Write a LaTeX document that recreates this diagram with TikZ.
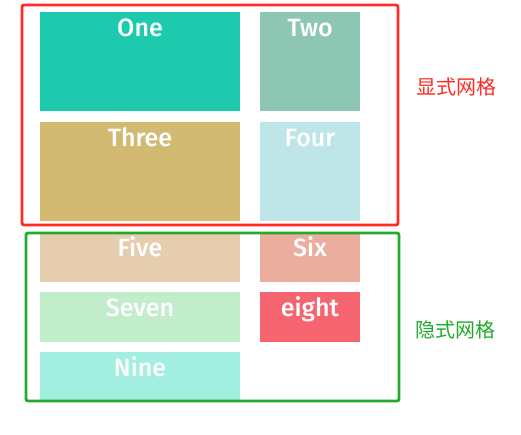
\documentclass[tikz,border=0pt]{standalone}
\usepackage{fontspec}
\setmainfont{Fira Sans Medium}
\newfontfamily\cjk{Noto Sans CJK SC}
\definecolor{cOne}{HTML}{1DCAAD}
\definecolor{cTwo}{HTML}{8DC6B3}
\definecolor{cThree}{HTML}{D2BA73}
\definecolor{cFour}{HTML}{BEE6E8}
\definecolor{cFive}{HTML}{E5CDAD}
\definecolor{cSix}{HTML}{EBAD9E}
\definecolor{cSeven}{HTML}{C1EDCA}
\definecolor{cEight}{HTML}{F5646F}
\definecolor{cNine}{HTML}{A2EEE0}
\definecolor{cRed}{HTML}{FF2A22}
\definecolor{cGreen}{HTML}{22AA2A}
\begin{document}
\begin{tikzpicture}[x=1pt,y=-1pt,
  lbl/.style={text=white,font=\fontsize{25}{25}\selectfont,anchor=base},
  frame/.style={line width=2.8pt,rounded corners=2pt},
  note/.style={font=\cjk\fontsize{20}{20}\selectfont,anchor=center}]
\useasboundingbox (0,0) rectangle (521,434);
\fill[cOne] (40,12) rectangle (240,111);
\node[lbl] (one) at (140,36) {One};
\fill[cTwo] (260,12) rectangle (360,111);
\node[lbl] (two) at (310,36) {Two};
\fill[cThree] (40,122) rectangle (240,221);
\node[lbl] (three) at (140,146) {Three};
\fill[cFour] (260,122) rectangle (360,221);
\node[lbl] (four) at (310,146) {Four};
\fill[cFive] (40,232) rectangle (240,282);
\node[lbl] (five) at (140,256) {Five};
\fill[cSix] (260,232) rectangle (360,282);
\node[lbl] (six) at (310,256) {Six};
\fill[cSeven] (40,292) rectangle (240,342);
\node[lbl] (seven) at (140,316) {Seven};
\fill[cEight] (260,292) rectangle (360,342);
\node[lbl] (eight) at (310,316) {eight};
\fill[cNine] (40,352) rectangle (240,401);
\node[lbl] (nine) at (140,376) {Nine};
\draw[frame,cRed] (22,5) rectangle (398,225);
\draw[frame,cGreen] (26,233) rectangle (399,401);
\node[note,text=cRed] (explicit) at (456,87) {显式网格};
\node[note,text=cGreen] (implicit) at (455,330) {隐式网格};
\end{tikzpicture}
\end{document}
